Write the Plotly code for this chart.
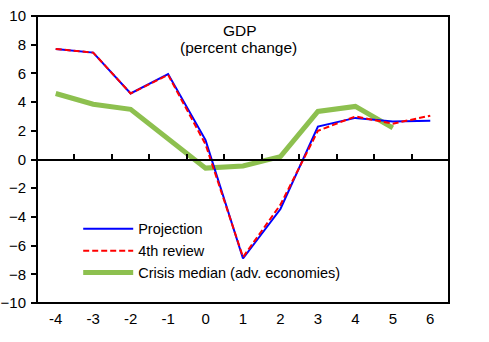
import plotly.graph_objects as go

years = [-4, -3, -2, -1, 0, 1, 2, 3, 4, 5, 6]
projection = [7.7, 7.45, 4.6, 5.95, 1.35, -6.9, -3.45, 2.3, 2.9, 2.65, 2.7]
review4 = [7.7, 7.45, 4.6, 5.9, 1.05, -6.8, -3.15, 2.0, 3.0, 2.5, 3.05]
crisis_years = [-4, -3, -2, -1, 0, 1, 2, 3, 4, 5]
crisis_median = [4.6, 3.85, 3.5, 1.45, -0.6, -0.45, 0.2, 3.35, 3.7, 2.2]
y_ticks = [-10, -8, -6, -4, -2, 0, 2, 4, 6, 8, 10]

FONT = "Liberation Sans, Arial, sans-serif"

fig = go.Figure()
fig.add_trace(go.Scatter(x=crisis_years, y=crisis_median, mode="lines",
                         name="Crisis median (adv. economies)",
                         line=dict(color="#8DC04F", width=5), legendrank=3))
fig.add_trace(go.Scatter(x=years, y=projection, mode="lines", name="Projection",
                         line=dict(color="#0000FF", width=2), legendrank=1))
fig.add_trace(go.Scatter(x=years, y=review4, mode="lines", name="4th review",
                         line=dict(color="#FF0000", width=2, dash="6px,3px"), legendrank=2))
# invisible host trace for the zero-line axis carrying the category-boundary ticks
fig.add_trace(go.Scatter(x=[years[0]], y=[0], xaxis="x2", mode="markers",
                         marker=dict(opacity=0), showlegend=False, hoverinfo="skip"))

fig.update_layout(
    width=489, height=342,
    margin=dict(l=37, r=40, t=16, b=39),
    paper_bgcolor="white", plot_bgcolor="white",
    font=dict(family=FONT, size=15, color="black"),
    showlegend=True,
    legend=dict(x=0.10, y=0.314, xanchor="left", yanchor="top",
                bgcolor="rgba(0,0,0,0)", borderwidth=0,
                font=dict(size=14.5), itemwidth=50, tracegroupgap=0),
    xaxis=dict(range=[-4.5, 6.5], tickvals=years, ticktext=[str(v) for v in years],
               showgrid=False, zeroline=False, showline=False, ticks="",
               ticklabelstandoff=5, automargin=False),
    xaxis2=dict(range=[-4.5, 6.5], overlaying="x", anchor="free", position=0.5,
                side="bottom", tickvals=[v + 0.5 for v in years[:-1]],
                showticklabels=False, ticks="inside", ticklen=5, tickwidth=1.5,
                tickcolor="black", showline=True, linecolor="black", linewidth=2,
                showgrid=False, zeroline=False, automargin=False),
    yaxis=dict(range=[-10, 10], tickvals=y_ticks, showgrid=False, zeroline=False,
               showline=False, ticks="outside",
               ticklen=5, tickwidth=1.5, tickcolor="black", ticklabelstandoff=2,
               automargin=False),
    yaxis2=dict(range=[-10, 10], tickvals=y_ticks, overlaying="y", side="right",
                showgrid=False, zeroline=False, showline=False,
                ticks="outside", ticklen=5, tickwidth=1.5,
                tickcolor="black", ticklabelstandoff=12, automargin=False),
    shapes=[dict(type="rect", xref="paper", yref="paper", x0=0, x1=1, y0=0, y1=1,
                 line=dict(color="black", width=2), layer="above")],
    annotations=[
        dict(text="GDP", x=0.493, y=0.951, xref="paper", yref="paper",
             xanchor="center", yanchor="middle",
             showarrow=False, font=dict(size=15.5)),
        dict(text="(percent change)", x=0.490, y=0.889, xref="paper", yref="paper",
             xanchor="center", yanchor="middle",
             showarrow=False, font=dict(size=15.5)),
    ],
)

fig.write_html("out.html")
